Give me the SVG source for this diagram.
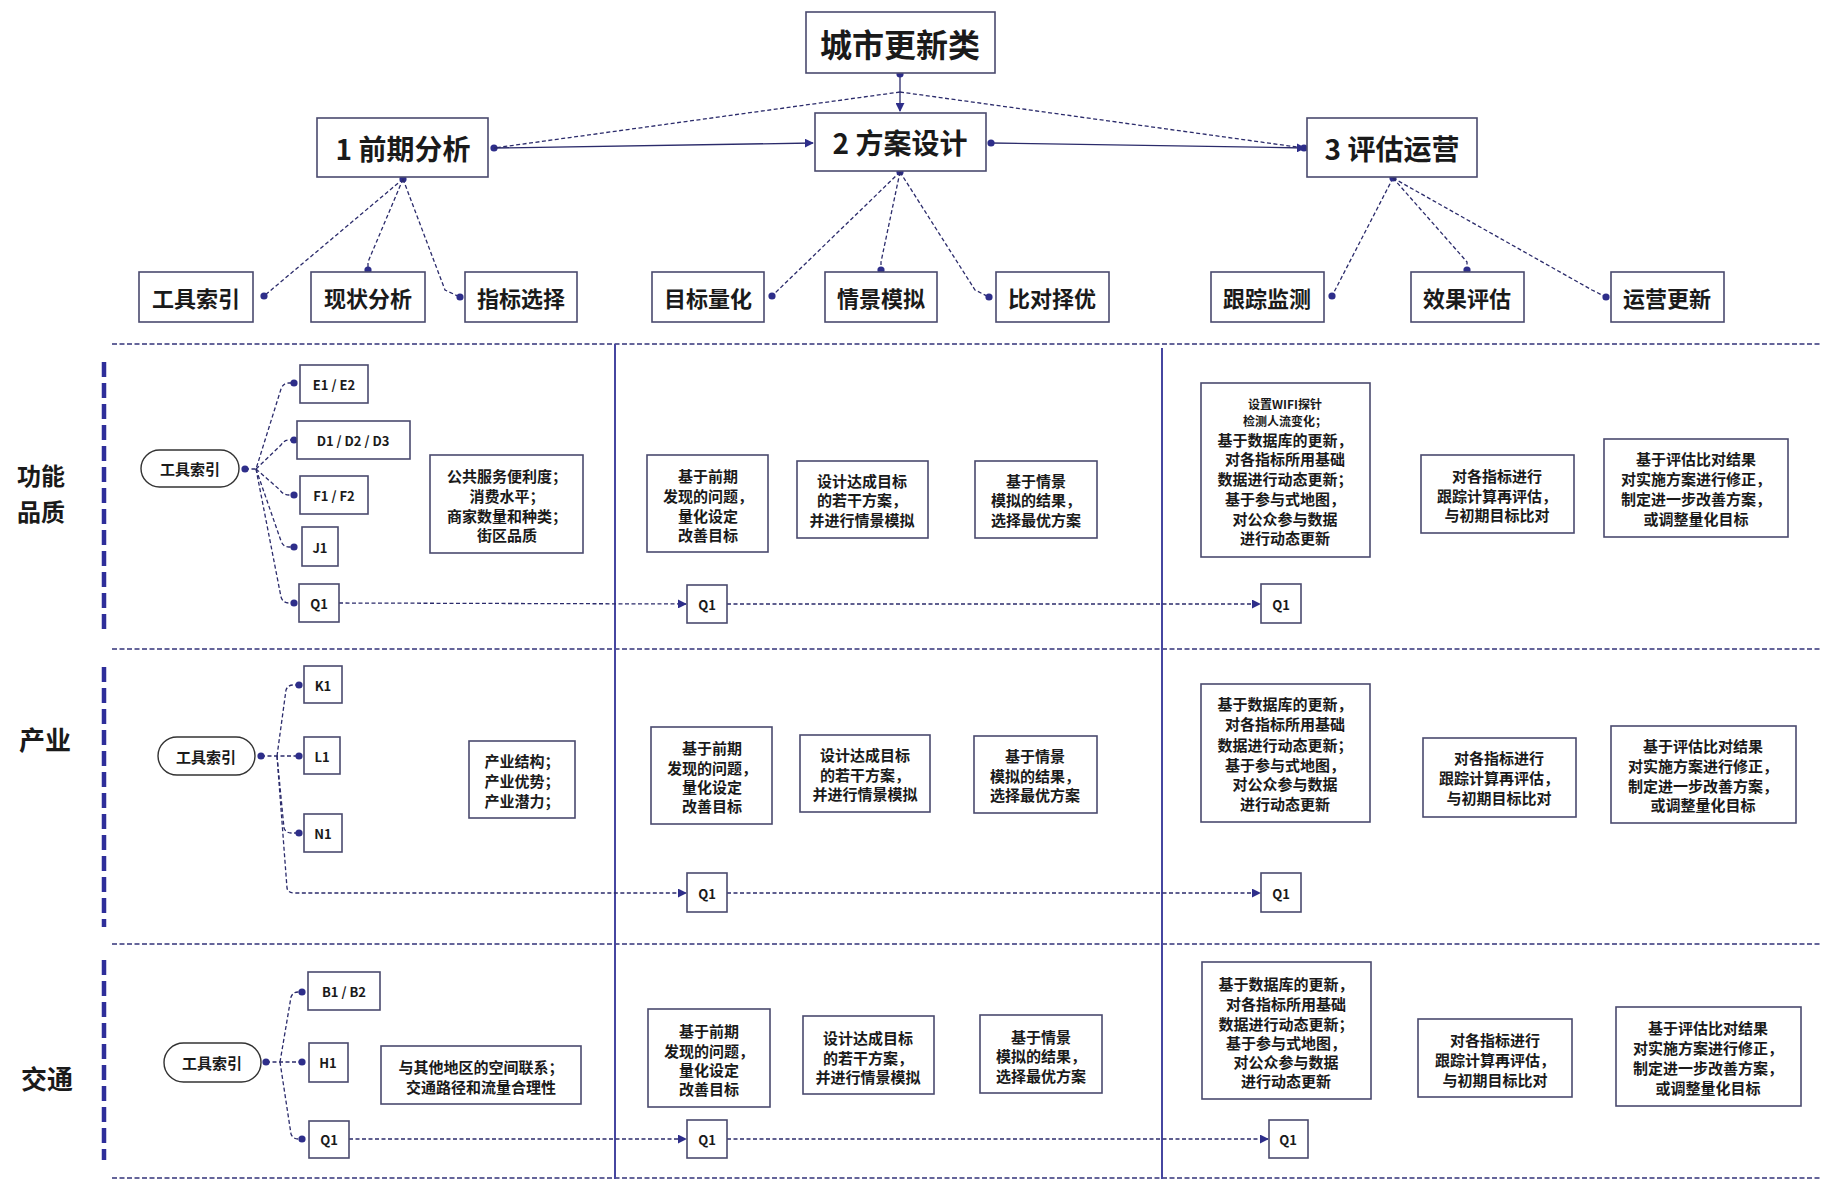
<svg xmlns="http://www.w3.org/2000/svg" width="1821" height="1181" viewBox="0 0 1821 1181">
<style>
.bx{fill:#fff;stroke:#4a4a6e;stroke-width:1.6}
.pill{fill:#fff;stroke:#333;stroke-width:1.4}
.t{font-family:"Noto Sans CJK SC","Noto Sans",sans-serif;font-weight:700;fill:#1a1a1a;text-anchor:middle;dominant-baseline:central}
.t1{font-size:32px}
.t2{font-size:28px}
.t3{font-size:22px}
.ts{font-size:13px}
.tm{font-size:15px}
.tx{font-size:12px}
.lane{font-size:26px}
.lane2{font-size:24px}
.dl{fill:none;stroke:#2b2b6b;stroke-width:1.3;stroke-dasharray:4 2.5}
.sl{fill:none;stroke:#2b2b6b;stroke-width:1.3}
.sep{fill:none;stroke:#33337a;stroke-width:1.6;stroke-dasharray:5 2.5}
.vl{fill:none;stroke:#4646a0;stroke-width:2}
.vd{fill:none;stroke:#2e2e9a;stroke-width:4.5;stroke-dasharray:15 6}
</style>
<defs>
<marker id="dot" viewBox="0 0 10 10" refX="5" refY="5" markerWidth="8" markerHeight="8" markerUnits="userSpaceOnUse"><circle cx="5" cy="5" r="4.5" fill="#2e2e8a"/></marker>
<marker id="arr" viewBox="0 0 10 10" refX="9" refY="5" markerWidth="9" markerHeight="9" markerUnits="userSpaceOnUse" orient="auto"><path d="M0 0 L10 5 L0 10 z" fill="#2e2e8a"/></marker>
</defs>
<rect width="1821" height="1181" fill="#fff"/>

<g id="lanes">
<path class="sep" d="M112 344 H1821 M112 649 H1821 M112 944 H1821 M112 1178 H1821"/>
<path class="vl" d="M615 344 V1179 M1162 348 V1179"/>
<path class="vd" d="M104 362 V633 M104 667 V927 M104 960 V1160"/>
<text class="t lane2" x="41" y="474">功能</text>
<text class="t lane2" x="41" y="510">品质</text>
<text class="t lane" x="45" y="738">产业</text>
<text class="t lane" x="47" y="1077">交通</text>
</g>

<g id="connectors">
<path class="sl" d="M900 74 L900 111" marker-start="url(#dot)" marker-end="url(#arr)"/>
<path class="dl" d="M900 92 L494 148" marker-end="url(#dot)"/>
<path class="dl" d="M900 92 L1304 148" marker-end="url(#dot)"/>
<path class="sl" d="M494 148 L813 143" marker-end="url(#arr)"/>
<path class="sl" d="M991 143 L1305 148" marker-start="url(#dot)" marker-end="url(#arr)"/>
<path class="dl" d="M403 179 L264 296" marker-start="url(#dot)" marker-end="url(#dot)"/>
<path class="dl" d="M403 179 L368 262 L368 270" marker-end="url(#dot)"/>
<path class="dl" d="M403 179 L445 290 L460 297" marker-end="url(#dot)"/>
<path class="dl" d="M900 172 L772 296" marker-start="url(#dot)" marker-end="url(#dot)"/>
<path class="dl" d="M900 172 L881 262 L881 270" marker-end="url(#dot)"/>
<path class="dl" d="M900 172 L975 290 L989 297" marker-end="url(#dot)"/>
<path class="dl" d="M1393 178 L1332 296" marker-start="url(#dot)" marker-end="url(#dot)"/>
<path class="dl" d="M1393 178 L1467 262 L1467 270" marker-end="url(#dot)"/>
<path class="dl" d="M1393 178 L1592 290 L1606 297" marker-end="url(#dot)"/>
<path class="dl" d="M245 469 L256 469 L281 389 Q283 383 289 383 L294 383" marker-start="url(#dot)" marker-end="url(#dot)"/>
<path class="dl" d="M256 469 L281 445 Q284 440 289 440 L294 440" marker-end="url(#dot)"/>
<path class="dl" d="M256 469 L280 490 Q283 495 289 495 L294 495" marker-end="url(#dot)"/>
<path class="dl" d="M256 469 L281 541 Q283 547 289 547 L294 547" marker-end="url(#dot)"/>
<path class="dl" d="M256 469 L281 597 Q283 603 289 603 L294 603" marker-end="url(#dot)"/>
<path class="dl" d="M339 603 L686 604" marker-end="url(#arr)"/>
<path class="dl" d="M727 604 L1260 604" marker-end="url(#arr)"/>
<path class="dl" d="M261 756 L299 756" marker-start="url(#dot)" marker-end="url(#dot)"/>
<path class="dl" d="M277 756 L286 690 Q288 685 293 685 L299 685" marker-end="url(#dot)"/>
<path class="dl" d="M277 756 L284 828 Q286 833 291 833 L299 833" marker-end="url(#dot)"/>
<path class="dl" d="M277 756 L287 888 Q288 893 294 893 L686 893" marker-end="url(#arr)"/>
<path class="dl" d="M727 893 L1260 893" marker-end="url(#arr)"/>
<path class="dl" d="M266 1062 L302 1062" marker-start="url(#dot)" marker-end="url(#dot)"/>
<path class="dl" d="M280 1062 L291 997 Q293 992 298 992 L302 992" marker-end="url(#dot)"/>
<path class="dl" d="M280 1062 L291 1134 Q293 1139 298 1139 L302 1139" marker-end="url(#dot)"/>
<path class="dl" d="M349 1139 L686 1139" marker-end="url(#arr)"/>
<path class="dl" d="M727 1139 L1268 1139" marker-end="url(#arr)"/>
</g>

<g id="n_top"><rect class="bx" x="806" y="12" width="189" height="61"/><text class="t t1" x="900" y="43">城市更新类</text></g>
<g id="n_1"><rect class="bx" x="317" y="118" width="171" height="59"/><text class="t t2" x="403" y="148">1 前期分析</text></g>
<g id="n_2"><rect class="bx" x="815" y="113" width="171" height="58"/><text class="t t2" x="900" y="142">2 方案设计</text></g>
<g id="n_3"><rect class="bx" x="1307" y="118" width="170" height="59"/><text class="t t2" x="1392" y="148">3 评估运营</text></g>

<g id="n_gjsy"><rect class="bx" x="139" y="272" width="114" height="50"/><text class="t t3" x="196" y="297">工具索引</text></g>
<g id="n_xzfx"><rect class="bx" x="311" y="272" width="114" height="50"/><text class="t t3" x="368" y="297">现状分析</text></g>
<g id="n_zbxz"><rect class="bx" x="465" y="272" width="112" height="50"/><text class="t t3" x="521" y="297">指标选择</text></g>
<g id="n_mblh"><rect class="bx" x="652" y="272" width="112" height="50"/><text class="t t3" x="708" y="297">目标量化</text></g>
<g id="n_qjmn"><rect class="bx" x="825" y="272" width="112" height="50"/><text class="t t3" x="881" y="297">情景模拟</text></g>
<g id="n_bdzy"><rect class="bx" x="996" y="272" width="113" height="50"/><text class="t t3" x="1052" y="297">比对择优</text></g>
<g id="n_gzjc"><rect class="bx" x="1211" y="272" width="113" height="50"/><text class="t t3" x="1267" y="297">跟踪监测</text></g>
<g id="n_xgpg"><rect class="bx" x="1411" y="272" width="113" height="50"/><text class="t t3" x="1467" y="297">效果评估</text></g>
<g id="n_yygx"><rect class="bx" x="1611" y="272" width="113" height="50"/><text class="t t3" x="1667" y="297">运营更新</text></g>

<g id="r1_pill"><rect class="pill" x="141" y="450" width="98" height="37" rx="18.5"/><text class="t tm" x="190" y="468">工具索引</text></g>
<g id="r1_e"><rect class="bx" x="300" y="365" width="68" height="38"/><text class="t ts" x="334" y="384">E1 / E2</text></g>
<g id="r1_d"><rect class="bx" x="297" y="421" width="113" height="38"/><text class="t ts" x="353" y="440">D1 / D2 / D3</text></g>
<g id="r1_f"><rect class="bx" x="300" y="476" width="68" height="38"/><text class="t ts" x="334" y="495">F1 / F2</text></g>
<g id="r1_j"><rect class="bx" x="302" y="527" width="36" height="39"/><text class="t ts" x="320" y="547">J1</text></g>
<g id="r1_q"><rect class="bx" x="299" y="584" width="40" height="38"/><text class="t ts" x="319" y="603">Q1</text></g>
<g id="r1_txt"><rect class="bx" x="430" y="455" width="153" height="98"/><text class="t tm" x="507"><tspan x="507" y="475">公共服务便利度；</tspan><tspan x="507" y="495">消费水平；</tspan><tspan x="507" y="515">商家数量和种类；</tspan><tspan x="507" y="534">街区品质</tspan></text></g>
<g id="r1_q2"><rect class="bx" x="687" y="585" width="40" height="38"/><text class="t ts" x="707" y="604">Q1</text></g>
<g id="r1_q3"><rect class="bx" x="1261" y="584" width="40" height="39"/><text class="t ts" x="1281" y="604">Q1</text></g>
<g id="r1_a"><rect class="bx" x="647" y="455" width="121" height="97"/><text class="t tm"><tspan x="708" y="475">基于前期</tspan><tspan x="708" y="495">发现的问题，</tspan><tspan x="708" y="515">量化设定</tspan><tspan x="708" y="534">改善目标</tspan></text></g>
<g id="r1_b"><rect class="bx" x="797" y="461" width="131" height="77"/><text class="t tm"><tspan x="862" y="480">设计达成目标</tspan><tspan x="862" y="499">的若干方案，</tspan><tspan x="862" y="519">并进行情景模拟</tspan></text></g>
<g id="r1_c"><rect class="bx" x="975" y="461" width="122" height="77"/><text class="t tm"><tspan x="1036" y="480">基于情景</tspan><tspan x="1036" y="499">模拟的结果，</tspan><tspan x="1036" y="519">选择最优方案</tspan></text></g>
<g id="r1_dd"><rect class="bx" x="1201" y="383" width="169" height="174"/><text class="t tm"><tspan class="tx" x="1285" y="403">设置WIFI探针</tspan><tspan class="tx" x="1285" y="420">检测人流变化；</tspan><tspan x="1285" y="439">基于数据库的更新，</tspan><tspan x="1285" y="458">对各指标所用基础</tspan><tspan x="1285" y="478">数据进行动态更新；</tspan><tspan x="1285" y="498">基于参与式地图，</tspan><tspan x="1285" y="518">对公众参与数据</tspan><tspan x="1285" y="537">进行动态更新</tspan></text></g>
<g id="r1_ee"><rect class="bx" x="1421" y="455" width="153" height="78"/><text class="t tm"><tspan x="1497" y="475">对各指标进行</tspan><tspan x="1497" y="495">跟踪计算再评估，</tspan><tspan x="1497" y="514">与初期目标比对</tspan></text></g>
<g id="r1_ff"><rect class="bx" x="1604" y="439" width="184" height="98"/><text class="t tm"><tspan x="1696" y="458">基于评估比对结果</tspan><tspan x="1696" y="478">对实施方案进行修正，</tspan><tspan x="1696" y="498">制定进一步改善方案，</tspan><tspan x="1696" y="518">或调整量化目标</tspan></text></g>

<g id="r2_pill"><rect class="pill" x="158" y="737" width="97" height="38" rx="19"/><text class="t tm" x="206" y="756">工具索引</text></g>
<g id="r2_k"><rect class="bx" x="304" y="666" width="38" height="37"/><text class="t ts" x="323" y="685">K1</text></g>
<g id="r2_l"><rect class="bx" x="304" y="737" width="36" height="37"/><text class="t ts" x="322" y="756">L1</text></g>
<g id="r2_n"><rect class="bx" x="304" y="814" width="38" height="38"/><text class="t ts" x="323" y="833">N1</text></g>
<g id="r2_txt"><rect class="bx" x="469" y="741" width="106" height="77"/><text class="t tm"><tspan x="522" y="760">产业结构；</tspan><tspan x="522" y="780">产业优势；</tspan><tspan x="522" y="800">产业潜力；</tspan></text></g>
<g id="r2_q2"><rect class="bx" x="687" y="873" width="40" height="39"/><text class="t ts" x="707" y="893">Q1</text></g>
<g id="r2_q3"><rect class="bx" x="1261" y="873" width="40" height="39"/><text class="t ts" x="1281" y="893">Q1</text></g>
<g id="r2_a"><rect class="bx" x="651" y="727" width="121" height="97"/><text class="t tm"><tspan x="712" y="747">基于前期</tspan><tspan x="712" y="767">发现的问题，</tspan><tspan x="712" y="786">量化设定</tspan><tspan x="712" y="805">改善目标</tspan></text></g>
<g id="r2_b"><rect class="bx" x="800" y="735" width="130" height="77"/><text class="t tm"><tspan x="865" y="754">设计达成目标</tspan><tspan x="865" y="774">的若干方案，</tspan><tspan x="865" y="793">并进行情景模拟</tspan></text></g>
<g id="r2_c"><rect class="bx" x="974" y="736" width="123" height="77"/><text class="t tm"><tspan x="1035" y="755">基于情景</tspan><tspan x="1035" y="775">模拟的结果，</tspan><tspan x="1035" y="794">选择最优方案</tspan></text></g>
<g id="r2_dd"><rect class="bx" x="1201" y="684" width="169" height="138"/><text class="t tm"><tspan x="1285" y="703">基于数据库的更新，</tspan><tspan x="1285" y="723">对各指标所用基础</tspan><tspan x="1285" y="744">数据进行动态更新；</tspan><tspan x="1285" y="764">基于参与式地图，</tspan><tspan x="1285" y="783">对公众参与数据</tspan><tspan x="1285" y="803">进行动态更新</tspan></text></g>
<g id="r2_ee"><rect class="bx" x="1423" y="738" width="153" height="79"/><text class="t tm"><tspan x="1499" y="757">对各指标进行</tspan><tspan x="1499" y="777">跟踪计算再评估，</tspan><tspan x="1499" y="797">与初期目标比对</tspan></text></g>
<g id="r2_ff"><rect class="bx" x="1611" y="726" width="185" height="97"/><text class="t tm"><tspan x="1703" y="745">基于评估比对结果</tspan><tspan x="1703" y="765">对实施方案进行修正，</tspan><tspan x="1703" y="785">制定进一步改善方案，</tspan><tspan x="1703" y="804">或调整量化目标</tspan></text></g>

<g id="r3_pill"><rect class="pill" x="164" y="1043" width="97" height="39" rx="19.5"/><text class="t tm" x="212" y="1062">工具索引</text></g>
<g id="r3_b"><rect class="bx" x="308" y="972" width="72" height="38"/><text class="t ts" x="344" y="991">B1 / B2</text></g>
<g id="r3_h"><rect class="bx" x="309" y="1043" width="39" height="39"/><text class="t ts" x="328" y="1062">H1</text></g>
<g id="r3_q"><rect class="bx" x="309" y="1121" width="40" height="37"/><text class="t ts" x="329" y="1139">Q1</text></g>
<g id="r3_txt"><rect class="bx" x="381" y="1046" width="200" height="58"/><text class="t tm"><tspan x="481" y="1066">与其他地区的空间联系；</tspan><tspan x="481" y="1086">交通路径和流量合理性</tspan></text></g>
<g id="r3_q2"><rect class="bx" x="687" y="1120" width="40" height="38"/><text class="t ts" x="707" y="1139">Q1</text></g>
<g id="r3_q3"><rect class="bx" x="1269" y="1120" width="39" height="38"/><text class="t ts" x="1288" y="1139">Q1</text></g>
<g id="r3_a"><rect class="bx" x="648" y="1009" width="122" height="98"/><text class="t tm"><tspan x="709" y="1030">基于前期</tspan><tspan x="709" y="1050">发现的问题，</tspan><tspan x="709" y="1069">量化设定</tspan><tspan x="709" y="1088">改善目标</tspan></text></g>
<g id="r3_bb"><rect class="bx" x="803" y="1016" width="131" height="78"/><text class="t tm"><tspan x="868" y="1037">设计达成目标</tspan><tspan x="868" y="1057">的若干方案，</tspan><tspan x="868" y="1076">并进行情景模拟</tspan></text></g>
<g id="r3_c"><rect class="bx" x="980" y="1015" width="122" height="78"/><text class="t tm"><tspan x="1041" y="1036">基于情景</tspan><tspan x="1041" y="1055">模拟的结果，</tspan><tspan x="1041" y="1075">选择最优方案</tspan></text></g>
<g id="r3_dd"><rect class="bx" x="1202" y="962" width="169" height="137"/><text class="t tm"><tspan x="1286" y="983">基于数据库的更新，</tspan><tspan x="1286" y="1003">对各指标所用基础</tspan><tspan x="1286" y="1023">数据进行动态更新；</tspan><tspan x="1286" y="1042">基于参与式地图，</tspan><tspan x="1286" y="1061">对公众参与数据</tspan><tspan x="1286" y="1080">进行动态更新</tspan></text></g>
<g id="r3_ee"><rect class="bx" x="1418" y="1019" width="154" height="78"/><text class="t tm"><tspan x="1495" y="1039">对各指标进行</tspan><tspan x="1495" y="1059">跟踪计算再评估，</tspan><tspan x="1495" y="1079">与初期目标比对</tspan></text></g>
<g id="r3_ff"><rect class="bx" x="1616" y="1007" width="185" height="99"/><text class="t tm"><tspan x="1708" y="1027">基于评估比对结果</tspan><tspan x="1708" y="1047">对实施方案进行修正，</tspan><tspan x="1708" y="1067">制定进一步改善方案，</tspan><tspan x="1708" y="1087">或调整量化目标</tspan></text></g>
</svg>
